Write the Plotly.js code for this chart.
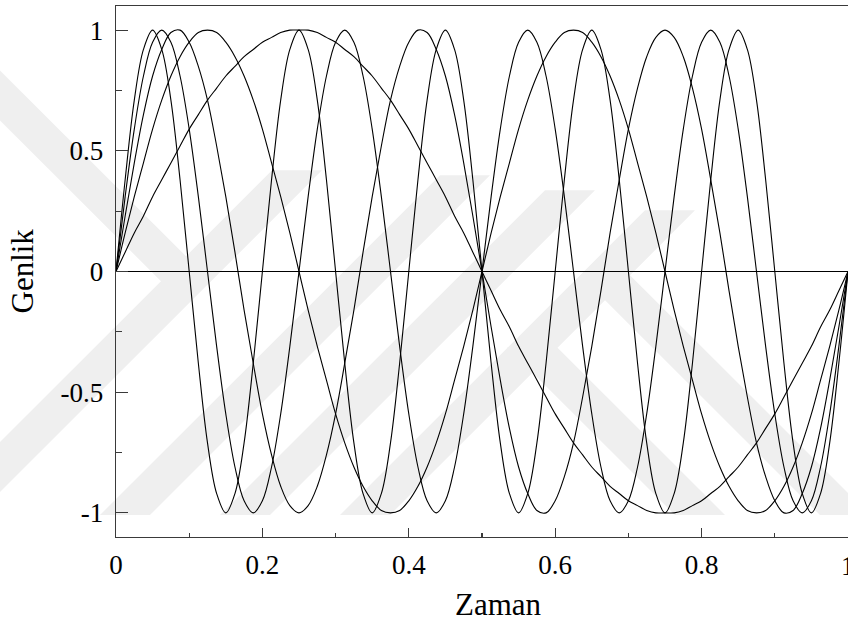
<!DOCTYPE html>
<html>
<head>
<meta charset="utf-8">
<script src="https://cdn.plot.ly/plotly-3.0.1.min.js"></script>
<style>
  html, body { margin: 0; padding: 0; background: #ffffff; }
  #chart { width: 848px; height: 623px; }
</style>
</head>
<body>
<div id="chart"></div>
<script>
// Sampling instants (s) shared by the sinusoid series
const time = [
  0, .0125, .025, .0375, .05, .0625, .075, .0875, .1, .1125,
  .125, .1375, .15, .1625, .175, .1875, .2, .2125, .225, .2375,
  .25, .2625, .275, .2875, .3, .3125, .325, .3375, .35, .3625,
  .375, .3875, .4, .4125, .425, .4375, .45, .4625, .475, .4875,
  .5, .5125, .525, .5375, .55, .5625, .575, .5875, .6, .6125,
  .625, .6375, .65, .6625, .675, .6875, .7, .7125, .725, .7375,
  .75, .7625, .775, .7875, .8, .8125, .825, .8375, .85, .8625,
  .875, .8875, .9, .9125, .925, .9375, .95, .9625, .975, .9875,
  1
];

// 0 Hz component: a flat line
const time0 = [0, 1];
const amp0 = [0, 0];

// 1 Hz
const amp1 = [
  0, .08, .16, .23, .31, .38, .45, .52, .59, .65,
  .71, .76, .81, .85, .89, .92, .95, .97, .99, 1,
  1, 1, .99, .97, .95, .92, .89, .85, .81, .76,
  .71, .65, .59, .52, .45, .38, .31, .23, .16, .08,
  0, -.08, -.16, -.23, -.31, -.38, -.45, -.52, -.59, -.65,
  -.71, -.76, -.81, -.85, -.89, -.92, -.95, -.97, -.99, -1,
  -1, -1, -.99, -.97, -.95, -.92, -.89, -.85, -.81, -.76,
  -.71, -.65, -.59, -.52, -.45, -.38, -.31, -.23, -.16, -.08,
  0
];

// 2 Hz
const amp2 = [
  0, .16, .31, .45, .59, .71, .81, .89, .95, .99,
  1, .99, .95, .89, .81, .71, .59, .45, .31, .16,
  0, -.16, -.31, -.45, -.59, -.71, -.81, -.89, -.95, -.99,
  -1, -.99, -.95, -.89, -.81, -.71, -.59, -.45, -.31, -.16,
  0, .16, .31, .45, .59, .71, .81, .89, .95, .99,
  1, .99, .95, .89, .81, .71, .59, .45, .31, .16,
  0, -.16, -.31, -.45, -.59, -.71, -.81, -.89, -.95, -.99,
  -1, -.99, -.95, -.89, -.81, -.71, -.59, -.45, -.31, -.16,
  0
];

// 3 Hz
const amp3 = [
  0, .23, .45, .65, .81, .92, .99, 1, .95, .85,
  .71, .52, .31, .08, -.16, -.38, -.59, -.76, -.89, -.97,
  -1, -.97, -.89, -.76, -.59, -.38, -.16, .08, .31, .52,
  .71, .85, .95, 1, .99, .92, .81, .65, .45, .23,
  0, -.23, -.45, -.65, -.81, -.92, -.99, -1, -.95, -.85,
  -.71, -.52, -.31, -.08, .16, .38, .59, .76, .89, .97,
  1, .97, .89, .76, .59, .38, .16, -.08, -.31, -.52,
  -.71, -.85, -.95, -1, -.99, -.92, -.81, -.65, -.45, -.23,
  0
];

// 4 Hz
const amp4 = [
  0, .31, .59, .81, .95, 1, .95, .81, .59, .31,
  0, -.31, -.59, -.81, -.95, -1, -.95, -.81, -.59, -.31,
  0, .31, .59, .81, .95, 1, .95, .81, .59, .31,
  0, -.31, -.59, -.81, -.95, -1, -.95, -.81, -.59, -.31,
  0, .31, .59, .81, .95, 1, .95, .81, .59, .31,
  0, -.31, -.59, -.81, -.95, -1, -.95, -.81, -.59, -.31,
  0, .31, .59, .81, .95, 1, .95, .81, .59, .31,
  0, -.31, -.59, -.81, -.95, -1, -.95, -.81, -.59, -.31,
  0
];

// 5 Hz
const amp5 = [
  0, .38, .71, .92, 1, .92, .71, .38, 0, -.38,
  -.71, -.92, -1, -.92, -.71, -.38, 0, .38, .71, .92,
  1, .92, .71, .38, 0, -.38, -.71, -.92, -1, -.92,
  -.71, -.38, 0, .38, .71, .92, 1, .92, .71, .38,
  0, -.38, -.71, -.92, -1, -.92, -.71, -.38, 0, .38,
  .71, .92, 1, .92, .71, .38, 0, -.38, -.71, -.92,
  -1, -.92, -.71, -.38, 0, .38, .71, .92, 1, .92,
  .71, .38, 0, -.38, -.71, -.92, -1, -.92, -.71, -.38,
  0
];

const xTickVals = [0, 0.2, 0.4, 0.6, 0.8, 1];
const xTickText = ['0', '0.2', '0.4', '0.6', '0.8', '1'];
const yTickVals = [-1, -0.5, 0, 0.5, 1];
const yTickText = ['-1', '-0.5', '0', '0.5', '1'];

const xTitle = 'Zaman';
const yTitle = 'Genlik';

const lineStyle = { color: '#000000', width: 1.1, shape: 'spline', smoothing: 1 };

const series = [
  { x: time0, y: amp0 },
  { x: time, y: amp1 },
  { x: time, y: amp2 },
  { x: time, y: amp3 },
  { x: time, y: amp4 },
  { x: time, y: amp5 }
];

const traces = series.map(s => ({
  type: 'scatter',
  mode: 'lines',
  x: s.x,
  y: s.y,
  line: lineStyle,
  hoverinfo: 'skip',
  showlegend: false
}));

// Page geometry of the plotting area (px)
const W = 848, H = 623;
const M = { l: 116, r: 0, t: 5.5, b: 86 };
const plotW = W - M.l - M.r;
const plotH = H - M.t - M.b;
const toPaperX = px => (px - M.l) / plotW;
const toPaperY = py => (H - M.b - py) / plotH;

// Faint diagonal watermark bands behind the plot, in page px.
// Each band: [direction, offset, yTop, yBottom]; direction +1 runs "/" (x = offset - y),
// direction -1 runs "\" (x = y - offset). Ends are cut horizontally.
const bandHalfWidth = 25;
const bands = [
  [-1, 95, 40, 281],
  [1, 467, 170, 540],
  [1, 640, 175, 515],
  [1, 760, 190, 515],
  [1, 880, 210, 515],
  [-1, -330, 275, 515],
  [-1, -185, 347, 515]
];

function bandPath(b) {
  const [dir, off, yt, yb] = b;
  const cx = y => dir > 0 ? off - y : y - off;
  const pts = [
    [cx(yt) - bandHalfWidth, yt], [cx(yt) + bandHalfWidth, yt],
    [cx(yb) + bandHalfWidth, yb], [cx(yb) - bandHalfWidth, yb]
  ];
  return 'M ' + pts.map(p => toPaperX(p[0]).toFixed(4) + ',' + toPaperY(p[1]).toFixed(4)).join(' L ') + ' Z';
}

const watermark = bands.map(b => ({
  type: 'path',
  xref: 'paper',
  yref: 'paper',
  path: bandPath(b),
  fillcolor: '#efefef',
  line: { width: 0 },
  layer: 'below'
}));

const serif = 'Liberation Serif, Times New Roman, serif';
const axisColor = '#3a3a3a';

const layout = {
  width: W,
  height: H,
  margin: { l: M.l, r: M.r, t: M.t, b: M.b, pad: 0 },
  paper_bgcolor: '#ffffff',
  plot_bgcolor: 'rgba(0,0,0,0)',
  font: { family: serif, color: '#000000', size: 27 },
  showlegend: false,
  shapes: watermark,
  xaxis: {
    range: [0, 1],
    showgrid: false,
    zeroline: false,
    showline: true,
    mirror: true,
    linecolor: axisColor,
    linewidth: 1.3,
    ticks: 'inside',
    ticklen: 9,
    tickwidth: 1.2,
    tickcolor: axisColor,
    tickmode: 'array',
    tickvals: xTickVals,
    ticktext: xTickText,
    tickfont: { family: serif, size: 27, color: '#000000' },
    ticklabelstandoff: 3,
    minor: { dtick: 0.1, tick0: 0, ticks: 'inside', ticklen: 4, tickwidth: 1.1, tickcolor: axisColor, showgrid: false }
  },
  yaxis: {
    range: [-1.1, 1.1],
    showgrid: false,
    zeroline: false,
    showline: true,
    mirror: false,
    linecolor: axisColor,
    linewidth: 1.3,
    ticks: 'inside',
    ticklen: 12,
    tickwidth: 1.2,
    tickcolor: axisColor,
    tickmode: 'array',
    tickvals: yTickVals,
    ticktext: yTickText,
    tickfont: { family: serif, size: 27, color: '#000000' },
    ticklabelstandoff: 6,
    minor: { dtick: 0.25, tick0: 0, ticks: 'inside', ticklen: 6, tickwidth: 1.1, tickcolor: axisColor, showgrid: false }
  },
  annotations: [
    {
      // end label of the time axis, sitting on the page edge
      text: xTickText[xTickText.length - 1], xref: 'x', yref: 'paper',
      x: xTickVals[xTickVals.length - 1], y: 0,
      xanchor: 'center', yanchor: 'middle', yshift: -29, showarrow: false,
      font: { family: serif, size: 27, color: '#000000' }
    },
    {
      text: xTitle, xref: 'paper', yref: 'paper', x: 0.523, y: 0,
      xanchor: 'center', yanchor: 'middle', yshift: -67, showarrow: false,
      font: { family: serif, size: 31, color: '#000000' }
    },
    {
      text: yTitle, xref: 'paper', yref: 'paper', x: 0, y: 0.5,
      xanchor: 'center', yanchor: 'middle', xshift: -94, textangle: -90, showarrow: false,
      font: { family: serif, size: 31, color: '#000000' }
    }
  ]
};

Plotly.newPlot('chart', traces, layout, { staticPlot: true, displayModeBar: false });
</script>
</body>
</html>
